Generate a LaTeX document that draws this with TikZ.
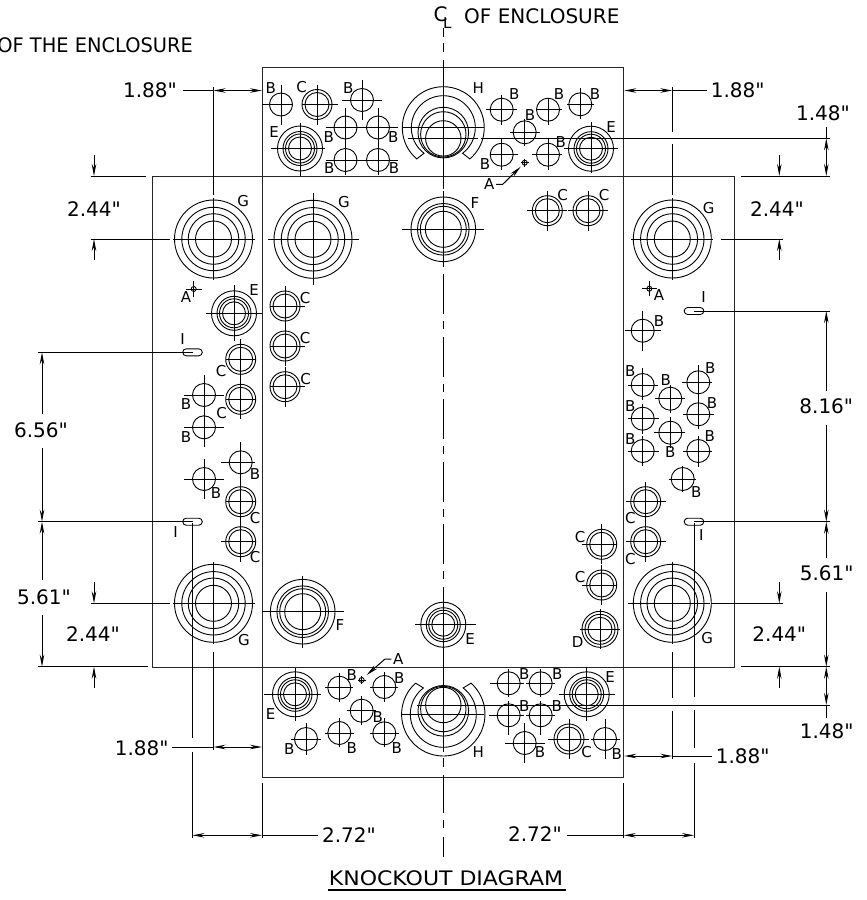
\documentclass[tikz,border=0pt]{standalone}
\usepackage{fontspec}
\setmainfont{DejaVu Sans}[Ligatures=TeXOff]
\usetikzlibrary{arrows.meta}

\tikzset{
    hole/.style={line width=0.9pt},
    wall/.style={line width=1pt,draw=black!85},
    dimline/.style={line width=1pt},
    dimboth/.style={dimline,{Stealth[length=12pt,width=4.5pt]}-{Stealth[length=12pt,width=4.5pt]}},
    dimend/.style={dimline,-{Stealth[length=12pt,width=4.5pt]}},
    dimtext/.style={font=\fontsize{20}{24}\selectfont,inner sep=0pt},
    kolabel/.style={font=\fontsize{15}{17}\selectfont,inner sep=0pt},
    slot/.style={draw,hole,rounded corners=3.5pt,minimum width=19.6pt,minimum height=7pt,inner sep=0pt},
}

% centre, radii, cross arms left/right/up/down
\newcommand{\knockout}[6]{%
    \foreach \r in {#2} \draw[hole] (#1) circle[radius=\r];
    \draw[hole] (#1) ++(-#3,0) -- ++(#3+#4,0) (#1) ++(0,-#5) -- ++(0,#5+#6);
}

\begin{document}
\begin{tikzpicture}[x=1pt,y=-1pt]
    \useasboundingbox (0,0) rectangle (867,900);
    \clip (0,0) rectangle (867,900);

    % enclosure outline
    \draw[wall] (262,67) rectangle (623.7,777);
    \draw[wall] (152.5,176) rectangle (734,667);

    % centre line
    \draw[hole] (443.3,28) -- (443.3,37) (443.3,43) -- (443.3,52) (443.3,60) -- (443.3,189) (443.3,197) -- (443.3,267);
    \draw[hole,dash pattern=on 40pt off 7pt on 8pt off 7.5pt] (443.3,274) -- (443.3,580);
    \draw[hole] (443.3,587) -- (443.3,752) (443.3,758) -- (443.3,767) (443.3,775) -- (443.3,813) (443.3,820) -- (443.3,828) (443.3,837) -- (443.3,857);

    % B knockouts
    \foreach \x/\y/\hl/\hr/\vu/\vd/\lx/\ly [count=\n] in {
        281/104.5/19/12/20/20/270.7/88.3, 362/100/20/20/20/20/348.3/87.7,
        345.5/127.5/20/20/20/20/328.7/136.7, 378/127.5/20/20/20/20/393.3/136.7,
        345.5/160/20/20/16/15/329.3/168.3, 378/160/20/20/16/15/394/168,
        501.7/109.7/15.5/15.5/15/15/514.3/94.3, 548/109.7/11.3/14.3/11.4/15.3/559/94.3,
        580.3/104.3/13.7/14/16/15/595/94.3, 524.7/132.3/15/15/13.5/13.5/530/115,
        501.7/154.7/11.7/16/15.4/15.3/485/164, 548/154.7/16.3/14.3/15.4/15.3/560.7/141.7,
        204/395/20/20/20/20/186/404.3, 204/427.3/20/20/20/20/186/436.7,
        240.7/462.3/20/14/20/20/255/474, 204/479/20/20/20/20/216/492.7,
        642.7/330.7/18/18/20/20/659/320.7, 642.7/385/15/15/17/15/630.3/371,
        642.7/418.7/15/16/15/15/630.3/406, 642.7/451/15/16/15/15/630.3/439,
        670.3/398.7/15/15/14/14/665.7/380, 670.3/432.7/16/15/16/15/670.3/451.7,
        698.3/382.3/16/14/17/16/710.3/367.7, 698.3/414.3/15/16/16/15/712/402.7,
        698.3/451/15/14/15/16/709.7/436, 682.7/479/13.5/13.5/13/13/696.3/491.7,
        339.3/687.7/14/14/14.5/14.5/351.7/675, 384.3/687/14/14/15/15/399.3/677.7,
        361.7/710.7/15/14.5/14.5/14/377.7/716.7, 306/739/15/15/16/16/289.3/749,
        339.3/733/14.5/14.5/15/14/351.7/747.7, 384.3/733.3/14.5/14.5/15/14/396.7/747.7,
        508.7/683.3/18.7/15/14/14/524.3/674, 540.7/683.3/15/14/14/14/557.3/674,
        508.7/715.3/20/15/14/20/524.3/706, 540.7/715.3/15/14/14/20/556.7/706,
        524.7/743/20/20/20/20/540/752.3, 605/739/14/15/20/20/616.7/754}{
        \knockout{\x,\y}{11.5}{\hl}{\hr}{\vu}{\vd}
        \node[kolabel] (b\n) at (\lx,\ly) {B};
    }

    % C knockouts
    \foreach \x/\y/\hl/\hr/\lx/\ly [count=\n] in {
        317/104.5/15/21/301.7/87.3, 547.3/210.7/20/20/562.7/195, 588/210.7/20/20/604/195,
        285/306/15/20/305/298.3, 285/346/15/20/305/338.3, 285/386.7/15/20/305.7/379.3,
        240.7/359.3/15/15/221/371, 240.7/399.3/15/15/221.7/412.7,
        240.7/501.7/15/15/255/517.7, 240.7/541.7/20/15/255/556.7,
        645.7/501.7/20/20/630.3/518.3, 645.7/541.7/20/20/630.3/559.3,
        601.7/544.3/20/15/580/536.7, 601.7/585/20/15/580/576.7, 569/739/21/20/586.7/752.3}{
        \knockout{\x,\y}{12,15}{\hl}{\hr}{20}{20}
        \node[kolabel] (c\n) at (\lx,\ly) {C};
    }

    % D knockout
    \knockout{600,629.3}{12,15,18}{20}{20}{20}{20}
    \node[kolabel] (d1) at (577.7,641.7) {D};

    % E knockouts
    \foreach \x/\y/\hl/\hr/\vu/\vd/\lx/\ly [count=\n] in {
        300/148.5/29/25/26/27.5/274/131.7, 591/148.7/26.7/26.7/26.7/24.6/611/126.7,
        234/313.3/28/28/28/28/254/290, 295/694.3/31/26/26/27/270.7/714,
        586.7/694.3/28/28/27/27/610/677.3, 443.3/624.7/28/33/0/0/470/639.3}{
        \knockout{\x,\y}{11.5,14.5,17,22.5}{\hl}{\hr}{\vu}{\vd}
        \node[kolabel] (e\n) at (\lx,\ly) {E};
    }

    % F knockouts
    \knockout{443.3,229.3}{18,23,25.8,32.3}{41}{41}{38}{38}
    \node[kolabel] (f1) at (475,203.3) {F};
    \knockout{302.7,611.7}{18,23,25.8,32.3}{41}{41}{36}{36}
    \node[kolabel] (f2) at (340,625) {F};

    % G knockouts
    \foreach \x/\y/\hl/\hr/\vu/\lx/\ly [count=\n] in {
        213.5/239/41/41/41/243.3/200.7, 313/239.3/45.5/45.5/46/344/201.7,
        672.3/239/41/41/41/708.7/208.3, 213.5/603.3/41/41/41/244/640,
        672.3/603.3/44/38/41/707.3/637.7}{
        \knockout{\x,\y}{18,25.3,31.7,39}{\hl}{\hr}{\vu}{\vu}
        \node[kolabel] (g\n) at (\lx,\ly) {G};
    }

    % H knockouts
    \coordinate (htop) at (443.3,127.7);
    \draw[hole] ([shift={(130.4:41)}]htop) arc[start angle=130.4,end angle=409.6,radius=41]
        -- ([shift={(53:32)}]htop) arc[start angle=413,end angle=127,radius=32] -- cycle;
    \draw[hole] (402,127.7) -- (484,127.7);
    \foreach \cy/\r in {138.4/17.7,134.4/22.7,132.6/25.3} \draw[hole] (443.3,\cy) circle[radius=\r];
    \node[kolabel] (h1) at (478.3,88.3) {H};
    \coordinate (hbot) at (443.3,714.3);
    \draw[hole] ([shift={(228.3:41.7)}]hbot) arc[start angle=228.3,end angle=-48.3,radius=41.7]
        -- ([shift={(-53:33)}]hbot) arc[start angle=-53,end angle=233,radius=33] -- cycle;
    \draw[hole] (402,714.3) -- (484,714.3);
    \foreach \cy/\r in {705/17.7,709/22.7,710.8/25.3} \draw[hole] (443.3,\cy) circle[radius=\r];
    \node[kolabel] (h2) at (478.3,752) {H};

    % A knockouts
    \knockout{193.7,289}{2.5}{8}{8}{8}{8}
    \node[kolabel] (a1) at (186,296.6) {A};
    \knockout{649.3,288.7}{2.5}{7.5}{7.5}{7.5}{7.5}
    \node[kolabel] (a2) at (659,295) {A};
    \knockout{524.7,162.7}{2.5}{4}{4}{4}{4}
    \node[kolabel] (a3) at (489.3,184.3) {A};
    \knockout{361.7,680}{2.5}{4}{4}{4}{4}
    \node[kolabel] (a4) at (398.3,659) {A};
    \coordinate (a3tip) at (520.7,166.7);
    \coordinate (a4tip) at (366.7,675);
    \draw[dimend] (a3.east) ++(1.5,0) -- (502.7,184.3) -- (a3tip);
    \draw[dimend] (a4.west) ++(-1.5,0) -- (385,659) -- (a4tip);

    % I slots
    \node[slot] (s1) at (192.5,352.3) {};
    \node[slot] (s2) at (192.5,521.7) {};
    \node[slot] (s3) at (694,311) {};
    \node[slot] (s4) at (694,521.7) {};
    \node[kolabel] (i1) at (182.7,339) {I};
    \node[kolabel] (i2) at (175.7,531.7) {I};
    \node[kolabel] (i3) at (703.7,296.7) {I};
    \node[kolabel] (i4) at (701.3,535) {I};

    % long horizontal extension lines
    \draw[dimline] (408,138.3) -- (478,138.3) (481,138.3) -- (830,138.3);
    \draw[dimline] (417,705) -- (830,705);
    \draw[dimline] (90.7,176) -- (146,176) (741,176) -- (830,176);
    \draw[dimline] (38.3,666.7) -- (147.7,666.7) (741,666.7) -- (830,666.7);
    \draw[dimline] (90.7,239) -- (170,239) (721,239) -- (782.7,239);
    \draw[dimline] (90.7,603.3) -- (170,603.3) (711,603.3) -- (782.7,603.3);
    \draw[dimline] (38.3,352.3) -- (s1.center);
    \draw[dimline] (38.3,521.7) -- (s2.center);
    \draw[dimline] (830,311) -- (s3.center);
    \draw[dimline] (830,521.7) -- (s4.center);

    % vertical extension lines
    \draw[dimline] (213.5,87) -- (213.5,195);
    \draw[dimline] (672.3,87) -- (672.3,132) (672.3,144) -- (672.3,195);
    \draw[dimline] (192.3,523) -- (192.3,738) (192.3,751.7) -- (192.3,838.3);
    \draw[dimline] (213.5,651.7) -- (213.5,750);
    \draw[dimline] (672.3,651.7) -- (672.3,698) (672.3,710.7) -- (672.3,759);
    \draw[dimline] (694,523) -- (694,697.3) (694,710) -- (694,748) (694,762.7) -- (694,838.3);
    \draw[dimline] (262,783.3) -- (262,838.3) (623.7,783.3) -- (623.7,838.3);

    % 1.88 dimensions
    \draw[dimline] (182.7,90.5) -- (213.5,90.5);
    \draw[dimboth] (213.5,90.5) -- (262,90.5);
    \node[dimtext] (d188a) at (150,90.5) {1.88"};
    \draw[dimboth] (624.3,90.5) -- (672.3,90.5);
    \draw[dimline] (672.3,90.5) -- (706.7,90.5);
    \node[dimtext] (d188b) at (737.7,90) {1.88"};
    \draw[dimline] (171.7,747) -- (213.5,747);
    \draw[dimboth] (213.5,747) -- (262,747);
    \node[dimtext] (d188c) at (141.7,748.3) {1.88"};
    \draw[dimboth] (624.3,756) -- (672.3,756);
    \draw[dimline] (672.3,756) -- (712.3,756);
    \node[dimtext] (d188d) at (742.7,756) {1.88"};

    % 2.44 dimensions
    \foreach \x in {94,779.3}{
        \draw[dimend] (\x,155) -- (\x,176);
        \draw[dimend] (\x,260) -- (\x,239);
        \draw[dimend] (\x,582) -- (\x,603.3);
        \draw[dimend] (\x,688) -- (\x,666.7);
    }
    \node[dimtext] (d244a) at (94,209) {2.44"};
    \node[dimtext] (d244b) at (777,209) {2.44"};
    \node[dimtext] (d244c) at (93,634) {2.44"};
    \node[dimtext] (d244d) at (779.3,634) {2.44"};

    % 1.48 dimensions
    \draw[dimline] (826.3,127) -- (826.3,138.3);
    \draw[dimboth] (826.3,138.3) -- (826.3,176);
    \node[dimtext] (d148a) at (823,113) {1.48"};
    \draw[dimboth] (826.3,666.7) -- (826.3,705);
    \draw[dimline] (826.3,705) -- (826.3,718.3);
    \node[dimtext] (d148b) at (826.7,731) {1.48"};

    % left column
    \draw[dimend] (42,414) -- (42,352.3);
    \node[dimtext] (d656) at (41,430) {6.56"};
    \draw[dimend] (42,448) -- (42,521.7);
    \draw[dimend] (42,580) -- (42,521.7);
    \node[dimtext] (d561a) at (44,597) {5.61"};
    \draw[dimend] (42,615) -- (42,666.7);

    % right column
    \draw[dimend] (826.3,390.7) -- (826.3,311);
    \node[dimtext] (d816) at (826.3,406.7) {8.16"};
    \draw[dimend] (826.3,425) -- (826.3,521.7);
    \draw[dimend] (826.3,558) -- (826.3,521.7);
    \node[dimtext] (d561b) at (826.7,573) {5.61"};
    \draw[dimend] (826.3,591.7) -- (826.3,666.7);

    % 2.72 dimensions
    \draw[dimboth] (192.3,835.3) -- (262,835.3);
    \draw[dimline] (262,835.3) -- (318.3,835.3);
    \node[dimtext] (d272a) at (349,835) {2.72"};
    \draw[dimboth] (623.7,835.3) -- (694,835.3);
    \draw[dimline] (567.3,835.3) -- (623.7,835.3);
    \node[dimtext] (d272b) at (535,834.3) {2.72"};

    % titles
    \node[dimtext,anchor=east,xscale=0.97] (tleft) at (193,45) {OF THE ENCLOSURE};
    \node[dimtext,anchor=west] (tright) at (464,16.7) {OF ENCLOSURE};
    \node[dimtext] (cl) at (440.5,14) {C};
    \node[kolabel] (cl2) at (447.3,23) {L};
    \node[dimtext,xscale=1.1] (title) at (446,878) {KNOCKOUT DIAGRAM};
    \draw[line width=1.5pt] (328,890) -- (566,890);
\end{tikzpicture}
\end{document}
